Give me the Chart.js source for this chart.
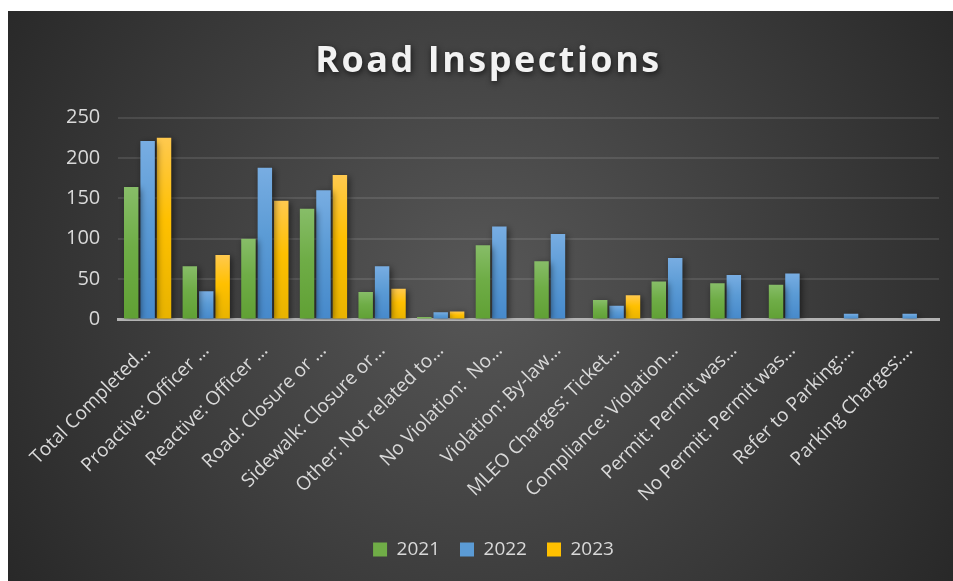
<!DOCTYPE html>
<html>
<head>
<meta charset="utf-8">
<script src="https://cdn.jsdelivr.net/npm/chart.js@4.4.1/dist/chart.umd.min.js"></script>
<style>
  body { margin: 0; background: #fff; }
  #wrap { position: absolute; left: 8px; top: 11px; width: 945px; height: 570px; }
</style>
</head>
<body>
<div id="wrap"><canvas id="roadChart"></canvas></div>
<script>
var categories = [
  'Total Completed…', 'Proactive: Officer …', 'Reactive: Officer …', 'Road: Closure or …',
  'Sidewalk: Closure or…', 'Other: Not related to…', 'No Violation:  No…', 'Violation: By-law…',
  'MLEO Charges: Ticket…', 'Compliance: Violation…', 'Permit: Permit was…', 'No Permit: Permit was…',
  'Refer to Parking:…', 'Parking Charges:…'
];
var y2021 = [164, 66, 100, 137, 34, 3, 92, 72, 24, 47, 45, 43, 0, 0];
var y2022 = [221, 35, 188, 160, 66, 9, 115, 106, 17, 76, 55, 57, 7, 7];
var y2023 = [225, 80, 147, 179, 38, 10, null, null, 30, null, null, null, null, null];
var yTicks = [0, 50, 100, 150, 200, 250];
var titleText = 'Road Inspections';

var FONT = '"Open Sans", sans-serif';

// gradient per bar, light at the top, darker at the base
function barGradient(top, mid, bottom) {
  return function (context) {
    var chart = context.chart;
    var area = chart.chartArea;
    if (!area || context.raw == null) return mid;
    var ys = chart.scales.y;
    var yTop = ys.getPixelForValue(context.raw);
    var yBot = ys.getPixelForValue(0);
    if (yBot - yTop < 1) return mid;
    var g = chart.ctx.createLinearGradient(0, yTop, 0, yBot);
    g.addColorStop(0, top);
    g.addColorStop(0.45, mid);
    g.addColorStop(1, bottom);
    return g;
  };
}

// dark radial backdrop
var backdrop = {
  id: 'backdrop',
  beforeDraw: function (chart) {
    var ctx = chart.ctx, w = chart.width, h = chart.height;
    var g = ctx.createRadialGradient(w * 0.5, h * 0.48, 10, w * 0.5, h * 0.48, w * 0.62);
    g.addColorStop(0, '#565656');
    g.addColorStop(1, '#262626');
    ctx.save();
    ctx.fillStyle = g;
    ctx.fillRect(0, 0, w, h);
    ctx.restore();
  }
};

// spaced-out title with a glow, drawn over the (transparent) built-in title
var spacedTitle = {
  id: 'spacedTitle',
  afterDraw: function (chart) {
    var ctx = chart.ctx;
    ctx.save();
    ctx.font = 'bold 36px ' + FONT;
    ctx.letterSpacing = '2.5px';
    ctx.fillStyle = '#f2f2f2';
    ctx.textAlign = 'center';
    ctx.textBaseline = 'middle';
    ctx.shadowColor = 'rgba(0,0,0,0.7)';
    ctx.shadowBlur = 6;
    ctx.shadowOffsetX = 1;
    ctx.shadowOffsetY = 2;
    ctx.fillText(titleText, chart.width / 2 + 8, 51);
    ctx.restore();
  }
};

// soft shadow behind the bars
var barShadow = {
  id: 'barShadow',
  beforeDatasetsDraw: function (chart) {
    var ctx = chart.ctx;
    ctx.save();
    ctx.shadowColor = 'rgba(0,0,0,0.55)';
    ctx.shadowBlur = 7;
    ctx.shadowOffsetX = 2;
    ctx.shadowOffsetY = 2;
  },
  afterDatasetsDraw: function (chart) {
    chart.ctx.restore();
  }
};

document.addEventListener('DOMContentLoaded', function () {
  var ctx = document.getElementById('roadChart').getContext('2d');
  new Chart(ctx, {
    type: 'bar',
    data: {
      labels: categories,
      datasets: [
        { label: '2021', data: y2021, backgroundColor: barGradient('#87bd68', '#6fad47', '#60a034'), legendColor: '#70ad47' },
        { label: '2022', data: y2022, backgroundColor: barGradient('#78ade2', '#5b9bd5', '#4689cb'), legendColor: '#5b9bd5' },
        { label: '2023', data: y2023, backgroundColor: barGradient('#ffc94f', '#ffc000', '#e8b300'), legendColor: '#ffc000' }
      ]
    },
    options: {
      responsive: true,
      maintainAspectRatio: false,
      animation: false,
      datasets: { bar: { barPercentage: 0.88, categoryPercentage: 0.84 } },
      layout: { padding: { left: 40, right: 14, top: 10, bottom: 12 } },
      plugins: {
        title: {
          display: true,
          text: titleText,
          color: 'rgba(0,0,0,0)',
          font: { family: FONT, size: 33, weight: 'bold' },
          padding: { top: 22, bottom: 35 }
        },
        legend: {
          position: 'bottom',
          labels: {
            color: '#d9d9d9',
            font: { family: FONT, size: 19 },
            boxWidth: 14,
            boxHeight: 14,
            padding: 20,
            generateLabels: function (chart) {
              return chart.data.datasets.map(function (ds, i) {
                return {
                  text: ds.label,
                  fillStyle: ds.legendColor,
                  strokeStyle: ds.legendColor,
                  lineWidth: 0,
                  fontColor: '#d9d9d9',
                  datasetIndex: i
                };
              });
            }
          }
        },
        tooltip: { enabled: false }
      },
      scales: {
        x: {
          grid: { display: false },
          border: { color: '#b3b3b3', width: 3 },
          ticks: {
            color: '#d9d9d9',
            font: { family: FONT, size: 19 },
            maxRotation: 45,
            minRotation: 45,
            autoSkip: false,
            padding: 12
          },
          afterFit: function (axis) { axis.height += 2; }
        },
        y: {
          min: 0,
          max: 250,
          afterBuildTicks: function (axis) {
            axis.ticks = yTicks.map(function (v) { return { value: v }; });
          },
          border: { display: false },
          grid: { color: 'rgba(255,255,255,0.1)', lineWidth: 2, drawTicks: false },
          ticks: {
            color: '#d9d9d9',
            font: { family: FONT, size: 20 },
            padding: 18
          }
        }
      }
    },
    plugins: [backdrop, barShadow, spacedTitle]
  });
});
</script>
</body>
</html>
